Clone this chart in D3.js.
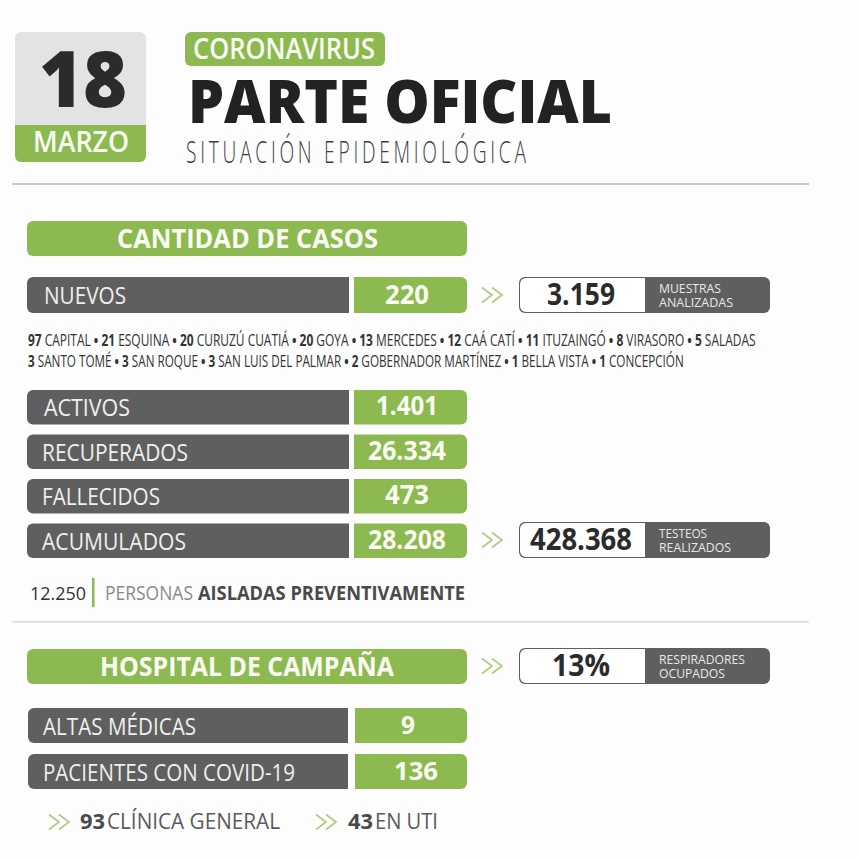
<!DOCTYPE html>
<html>
<head>
<meta charset="utf-8">
<script src="https://cdn.jsdelivr.net/npm/d3@7"></script>
<style>
    html, body { margin: 0; padding: 0; background: #fdfdfd; }
    svg { display: block; }
    text { font-family: "Open Sans", sans-serif; }
</style>
</head>
<body>
<svg width="860" height="860"></svg>
<script>
const GREEN = '#8cba50'
const GRAY = '#5f5f5f'
const DARK = '#2b2b2b'

const dayLabel = '18'
const monthLabel = 'MARZO'

const nuevosValue = '220'
const muestrasValue = '3.159'
const testeosValue = '428.368'
const respiradoresValue = '13%'

const caseLabels = ['ACTIVOS', 'RECUPERADOS', 'FALLECIDOS', 'ACUMULADOS']
const caseValues = ['1.401', '26.334', '473', '28.208']
const caseLabelWidths = [86, 146, 118, 144]
const caseValueWidths = [62, 78, 44, 78]

const hospitalLabels = ['ALTAS MÉDICAS', 'PACIENTES CON COVID-19']
const hospitalValues = ['9', '136']
const hospitalLabelWidths = [153, 252]
const hospitalValueWidths = [14, 44]

const localityCountsA = [97, 21, 20, 20, 13, 12, 11, 8, 5]
const localityNamesA = ['CAPITAL', 'ESQUINA', 'CURUZÚ CUATIÁ', 'GOYA', 'MERCEDES', 'CAÁ CATÍ', 'ITUZAINGÓ', 'VIRASORO', 'SALADAS']
const localityCountsB = [3, 3, 3, 2, 1, 1]
const localityNamesB = ['SANTO TOMÉ', 'SAN ROQUE', 'SAN LUIS DEL PALMAR', 'GOBERNADOR MARTÍNEZ', 'BELLA VISTA', 'CONCEPCIÓN']

const svg = d3.select('svg')

svg.append('rect').attr('width', 860).attr('height', 860).attr('fill', '#fdfdfd')

// text squeezed to a set width, the original uses a condensed face
function label(x, y, width, size, str, fill, weight) {
    return svg.append('text')
        .attr('x', x)
        .attr('y', y)
        .attr('font-size', size)
        .attr('font-weight', weight || 400)
        .attr('fill', fill)
        .attr('textLength', width)
        .attr('lengthAdjust', 'spacingAndGlyphs')
        .text(str)
}

function centered(cx, y, width, size, str, fill, weight) {
    return label(cx - width / 2, y, width, size, str, fill, weight)
}

// bar with rounded corners on the chosen sides only
function bar(x0, x1, y0, y1, fill, roundLeft, roundRight) {
    const r = 6
    const rl = roundLeft ? r : 0
    const rr = roundRight ? r : 0
    const p = d3.path()
    p.moveTo(x0 + rl, y0)
    p.lineTo(x1 - rr, y0)
    p.arcTo(x1, y0, x1, y0 + rr, rr)
    p.lineTo(x1, y1 - rr)
    p.arcTo(x1, y1, x1 - rr, y1, rr)
    p.lineTo(x0 + rl, y1)
    p.arcTo(x0, y1, x0, y1 - rl, rl)
    p.lineTo(x0, y0 + rl)
    p.arcTo(x0, y0, x0 + rl, y0, rl)
    p.closePath()
    return svg.append('path').attr('d', p.toString()).attr('fill', fill)
}

function chevrons(x, cy) {
    const line = d3.line()
    ;[0, 10].forEach(dx => {
        svg.append('path')
            .attr('d', line([[x + dx, cy - 7.5], [x + dx + 10, cy], [x + dx, cy + 7.5]]))
            .attr('fill', 'none')
            .attr('stroke', '#a9cc7e')
            .attr('stroke-width', 1.6)
    })
}

function infoBox(y0, y1, value, valueWidth, lines, lineWidths) {
    bar(519, 770, y0, y1, GRAY, true, true)
    bar(520, 645, y0 + 1, y1 - 1, '#ffffff', true, false)
    centered(581, y0 + 28, valueWidth, 31, value, DARK, 700)
    lines.forEach((s, i) => label(659, y0 + 16 + i * 14, lineWidths[i], 12, s, '#e8e8e8'))
    chevrons(482, (y0 + y1) / 2)
}

// measured and squeezed as a whole, so the bold and plain runs stay apart
function localityLine(x, y, width, counts, names) {
    const t = svg.append('text')
        .attr('font-size', 16)
        .attr('fill', '#333333')
    counts.forEach((c, i) => {
        t.append('tspan').attr('font-weight', 700).text(c + ' ')
        t.append('tspan').text(names[i])
        if (i < counts.length - 1) t.append('tspan').attr('font-weight', 700).text(' • ')
    })
    const k = width / t.node().getComputedTextLength()
    t.attr('transform', `translate(${x}, ${y}) scale(${k}, 1)`)
}

// date block
svg.append('path').attr('fill', '#e3e3e3').attr('d', function () {
    const p = d3.path()
    p.moveTo(21, 32); p.lineTo(140, 32); p.arcTo(146, 32, 146, 38, 6)
    p.lineTo(146, 125); p.lineTo(15, 125); p.lineTo(15, 38); p.arcTo(15, 32, 21, 32, 6); p.closePath()
    return p.toString()
})
svg.append('path').attr('fill', GREEN).attr('d', function () {
    const p = d3.path()
    p.moveTo(15, 125); p.lineTo(146, 125); p.lineTo(146, 156); p.arcTo(146, 162, 140, 162, 6)
    p.lineTo(21, 162); p.arcTo(15, 162, 15, 156, 6); p.closePath()
    return p.toString()
})
centered(83, 107, 88, 78, dayLabel, DARK, 800)
centered(81, 152, 96, 28, monthLabel, '#fbfdf5', 600)

// header
bar(185, 385, 32, 66, GREEN, true, true)
label(193, 59, 182, 29, 'CORONAVIRUS', '#fbfdf5', 600)
label(188, 123, 424, 61, 'PARTE OFICIAL', '#222222', 800)

// narrow light glyphs with wide tracking
const subtitleSqueeze = 0.6
svg.append('text')
    .attr('transform', `translate(186, 163) scale(${subtitleSqueeze}, 1)`)
    .attr('font-size', 32)
    .attr('font-weight', 300)
    .attr('fill', '#3f3f3f')
    .attr('textLength', 340 / subtitleSqueeze)
    .attr('lengthAdjust', 'spacing')
    .text('SITUACIÓN EPIDEMIOLÓGICA')
svg.append('rect').attr('x', 12).attr('y', 183).attr('width', 797).attr('height', 2).attr('fill', '#c9c9c9')

// cantidad de casos
bar(27, 467, 221, 256, GREEN, true, true)
label(117, 248, 261, 26, 'CANTIDAD DE CASOS', '#fbfdf5', 700)

bar(27, 349, 277, 313, GRAY, true, false)
bar(354, 467, 277, 313, GREEN, false, true)
label(44, 304, 82, 23, 'NUEVOS', '#efefef')
centered(407, 304, 44, 27, nuevosValue, '#fbfdf5', 700)
infoBox(277, 313, muestrasValue, 68, ['MUESTRAS', 'ANALIZADAS'], [62, 74])

localityLine(28, 346, 728, localityCountsA, localityNamesA)
localityLine(28, 367, 656, localityCountsB, localityNamesB)

const caseRows = d3.scaleBand()
    .domain(caseLabels)
    .range([390, 558])
    .paddingInner(0.225)

caseLabels.forEach((name, i) => {
    const y = caseRows(name)
    const h = caseRows.bandwidth()
    bar(27, 349, y, y + h, GRAY, true, false)
    bar(354, 467, y, y + h, GREEN, false, true)
    label(i === 0 ? 44 : 42, y + 26, caseLabelWidths[i], 23, name, '#efefef')
    centered(407, y + 25, caseValueWidths[i], 27, caseValues[i], '#fbfdf5', 700)
})
infoBox(522, 558, testeosValue, 102, ['TESTEOS', 'REALIZADOS'], [48, 72])

label(30, 600, 56, 19, '12.250', '#333333')
svg.append('rect').attr('x', 92).attr('y', 578).attr('width', 2.5).attr('height', 29).attr('fill', GREEN)
label(105, 600, 88, 20, 'PERSONAS', '#8a8a8a')
label(198, 600, 267, 20, 'AISLADAS PREVENTIVAMENTE', '#4a4a4a', 700)

svg.append('rect').attr('x', 12).attr('y', 621).attr('width', 797).attr('height', 1.5).attr('fill', '#dcdcdc')

// hospital
bar(27, 467, 649, 684, GREEN, true, true)
label(100, 676, 294, 27, 'HOSPITAL DE CAMPAÑA', '#fbfdf5', 700)
infoBox(648, 684, respiradoresValue, 58, ['RESPIRADORES', 'OCUPADOS'], [86, 66])

const hospitalRows = d3.scaleBand()
    .domain(hospitalLabels)
    .range([708, 789])
    .paddingInner(0.24)

hospitalLabels.forEach((name, i) => {
    const y = hospitalRows(name)
    const h = hospitalRows.bandwidth()
    bar(28, 348, y, y + h, GRAY, true, false)
    bar(355, 467, y, y + h, GREEN, false, true)
    label(43, y + 27, hospitalLabelWidths[i], 23, name, '#efefef')
    centered(i === 0 ? 408 : 416, y + 26, hospitalValueWidths[i], 25, hospitalValues[i], '#fbfdf5', 700)
})

chevrons(49, 822)
label(80, 829, 25, 21, '93', '#4a4a4a', 700)
label(107, 829, 173, 22, 'CLÍNICA GENERAL', '#5a5a5a')
chevrons(316, 822)
label(348, 829, 25, 21, '43', '#4a4a4a', 700)
label(375, 829, 63, 22, 'EN UTI', '#5a5a5a')
</script>
</body>
</html>
